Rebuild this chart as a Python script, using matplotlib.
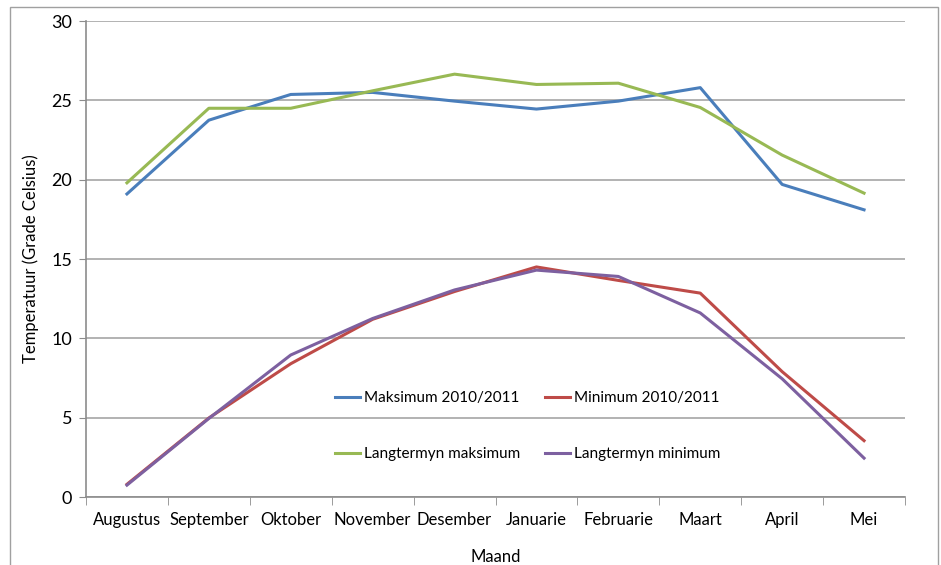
import matplotlib
matplotlib.use("Agg")
import matplotlib.pyplot as plt
from matplotlib.patches import Rectangle

# monthly temperatures (Grade Celsius)
maande = ["Augustus", "September", "Oktober", "November", "Desember",
          "Januarie", "Februarie", "Maart", "April", "Mei"]
maks_2010 = [19.1, 23.75, 25.37, 25.5, 24.95, 24.45, 24.95, 25.8, 19.7, 18.1]
min_2010 = [0.8, 4.98, 8.4, 11.2, 12.95, 14.5, 13.65, 12.85, 7.9, 3.55]
lang_maks = [19.8, 24.5, 24.5, 25.6, 26.65, 26.0, 26.08, 24.55, 21.55, 19.15]
lang_min = [0.75, 4.95, 8.95, 11.25, 13.05, 14.3, 13.9, 11.6, 7.45, 2.45]

plt.rcParams['font.family'] = ['Lato', 'DejaVu Sans']

fig = plt.figure(figsize=(9.41, 5.65), dpi=100)
ax = fig.add_axes([86 / 941, 1 - 497 / 565, (905 - 86) / 941, (497 - 21) / 565])

# outer chart frame
fig.patches.append(Rectangle((10 / 941, -0.1), 928 / 941, 1.1 - 7 / 565,
                             transform=fig.transFigure, fill=False,
                             edgecolor='#a0a0a0', linewidth=1.0))

x = list(range(len(maande)))
lw = 2.2
l1, = ax.plot(x, maks_2010, color='#4a7ebb', lw=lw, label='Maksimum 2010/2011')
l2, = ax.plot(x, min_2010, color='#be4b48', lw=lw, label='Minimum 2010/2011')
l3, = ax.plot(x, lang_maks, color='#98b954', lw=lw, label='Langtermyn maksimum')
l4, = ax.plot(x, lang_min, color='#7d60a0', lw=lw, label='Langtermyn minimum')

ax.set_xlim(-0.5, len(maande) - 0.5)
ax.set_ylim(0, 30)
ax.set_yticks(range(0, 31, 5))
ax.set_xticks(x)
ax.set_xticklabels(maande)
ax.set_xticks([i - 0.5 for i in range(len(maande) + 1)], minor=True)
ax.tick_params(axis='x', which='major', length=0, pad=11, labelsize=12)
ax.tick_params(axis='x', which='minor', length=6, color='#8c8c8c', direction='out')
ax.tick_params(axis='y', length=5, color='#8c8c8c', direction='out', pad=5, labelsize=13)

ax.grid(axis='y', color='#a6a6a6', lw=1.2)
ax.set_axisbelow(True)
for s in ['top', 'right']:
    ax.spines[s].set_visible(False)
for s in ['left', 'bottom']:
    ax.spines[s].set_color('#8c8c8c')
    ax.spines[s].set_linewidth(1.2)

ax.set_ylabel('Temperatuur (Grade Celsius)', fontsize=12, labelpad=9)
ax.set_xlabel('Maand', fontsize=12, labelpad=15)

ax.legend(handles=[l1, l3, l2, l4], ncol=2, loc='upper left',
          bbox_to_anchor=(335 / 941, 1 - 391 / 565), bbox_transform=fig.transFigure,
          frameon=False, fontsize=11, handlelength=1.65, handletextpad=0.25,
          labelspacing=2.75, columnspacing=1.6, borderpad=0, borderaxespad=0)

fig.savefig('out.png', dpi=100)
